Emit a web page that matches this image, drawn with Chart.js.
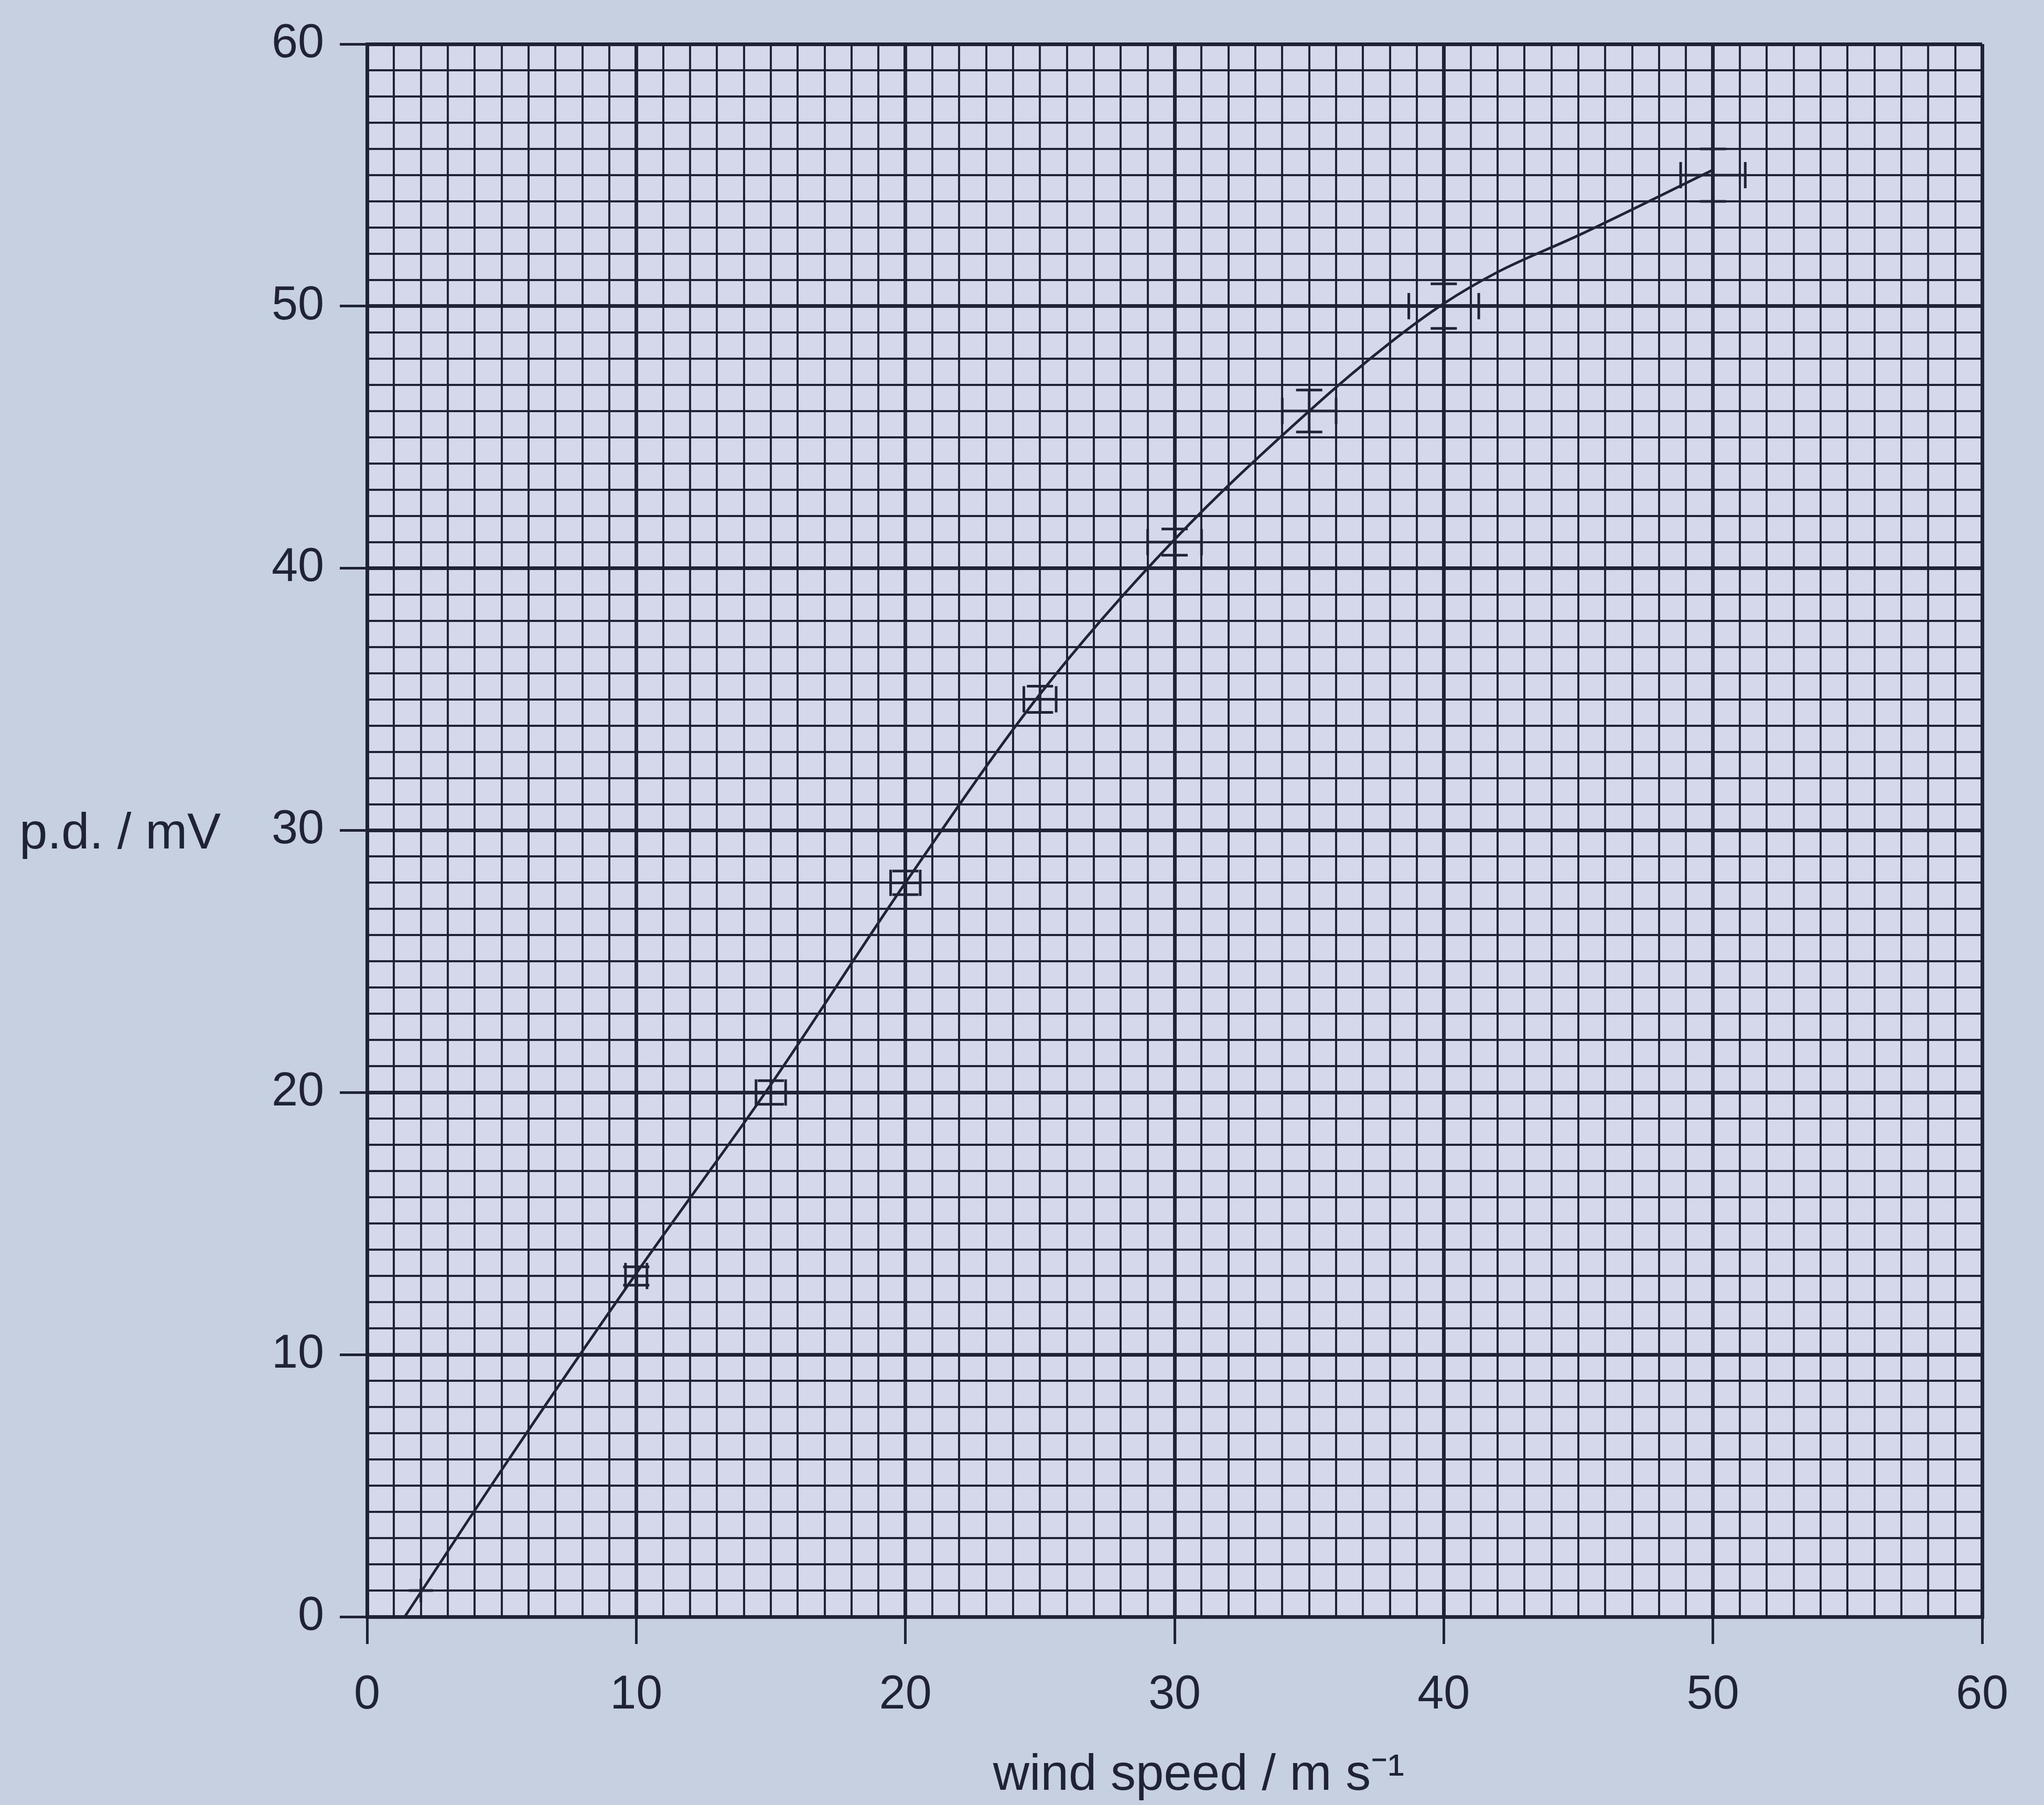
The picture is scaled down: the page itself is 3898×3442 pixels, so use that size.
<!DOCTYPE html>
<html>
<head>
<meta charset="utf-8">
<script src="https://cdn.jsdelivr.net/npm/chart.js@4.4.0/dist/chart.umd.min.js"></script>
<style>
  html, body { margin: 0; padding: 0; background: #c7d0e1; }
  #wrap { width: 3898px; height: 3442px; }
</style>
</head>
<body>
<div id="wrap"><canvas id="myChart" width="3898" height="3442"></canvas></div>
<script>
// measured points (wind speed / m s^-1, p.d. / mV) and their uncertainties
const speed    = [2, 10, 15, 20, 25, 30, 35, 40, 50];
const pd       = [1, 13, 20, 28, 35, 41, 46, 50, 55];
const speedErr = [0.45, 0.4, 0.55, 0.55, 0.6, 1.0, 1.0, 1.3, 1.2];
const pdErr    = [0.45, 0.35, 0.45, 0.45, 0.5, 0.5, 0.8, 0.85, 1.0];

// hand drawn best-fit curve
const curveSpeed = [1.4, 5, 10, 15, 20, 25, 30, 35, 38, 40, 42, 45, 50];
const curvePd    = [0, 5.6, 13.1, 20.3, 28.0, 35.2, 41.1, 46.0, 48.6, 50.1, 51.3, 52.7, 55.2];

const xTitle = 'wind speed / m s\u207B\u00B9';
const yTitle = 'p.d. / mV';

const ink = '#1f2335';
const paper = '#d4d8ea';
const font = '"Liberation Sans", Arial, sans-serif';

const isMajor = v => v % 10 === 0;

const paperPlugin = {
  id: 'paper',
  beforeDraw(chart) {
    const { ctx, chartArea: a } = chart;
    ctx.save();
    ctx.fillStyle = '#c7d0e1';
    ctx.fillRect(0, 0, chart.width, chart.height);
    ctx.fillStyle = paper;
    ctx.fillRect(a.left, a.top, a.right - a.left, a.bottom - a.top);
    ctx.restore();
  }
};

const errorBars = {
  id: 'errorBars',
  afterDatasetsDraw(chart) {
    const { ctx, scales: { x, y } } = chart;
    ctx.save();
    ctx.strokeStyle = ink;
    ctx.lineWidth = 5;
    speed.forEach((s, i) => {
      // the first reading is drawn as a plain cross, the rest have end caps
      const cap = i === 0 ? 0 : 25;
      const px = x.getPixelForValue(s);
      const py = y.getPixelForValue(pd[i]);
      const x0 = x.getPixelForValue(s - speedErr[i]);
      const x1 = x.getPixelForValue(s + speedErr[i]);
      const y0 = y.getPixelForValue(pd[i] - pdErr[i]);
      const y1 = y.getPixelForValue(pd[i] + pdErr[i]);
      ctx.beginPath();
      ctx.moveTo(x0, py); ctx.lineTo(x1, py);
      ctx.moveTo(px, y0); ctx.lineTo(px, y1);
      if (cap) {
        ctx.moveTo(x0, py - cap); ctx.lineTo(x0, py + cap);
        ctx.moveTo(x1, py - cap); ctx.lineTo(x1, py + cap);
        ctx.moveTo(px - cap, y0); ctx.lineTo(px + cap, y0);
        ctx.moveTo(px - cap, y1); ctx.lineTo(px + cap, y1);
      }
      ctx.stroke();
    });
    ctx.restore();
  }
};

const titles = {
  id: 'titles',
  afterDraw(chart) {
    const { ctx, scales: { y } } = chart;
    ctx.save();
    ctx.fillStyle = ink;
    ctx.font = '96px ' + font;
    ctx.textAlign = 'left';
    ctx.textBaseline = 'middle';
    ctx.fillText(yTitle, 37, y.getPixelForValue(30) + 8);
    ctx.textAlign = 'center';
    ctx.textBaseline = 'alphabetic';
    ctx.fillText(xTitle, 2286, 3413);
    ctx.restore();
  }
};

const gridOpts = {
  color: ink,
  lineWidth: ctx => isMajor(ctx.tick.value) ? 7 : 4,
  tickColor: ctx => isMajor(ctx.tick.value) ? ink : 'rgba(0,0,0,0)',
  tickWidth: 5,
  tickLength: 52,
  drawOnChartArea: true
};

const ctx = document.getElementById('myChart').getContext('2d');
const myChart = new Chart(ctx, {
  type: 'scatter',
  data: {
    datasets: [{
      label: 'best fit',
      data: curveSpeed.map((s, i) => ({ x: s, y: curvePd[i] })),
      showLine: true,
      borderColor: ink,
      borderWidth: 5,
      pointRadius: 0,
      cubicInterpolationMode: 'monotone'
    }, {
      label: 'measurements',
      data: speed.map((s, i) => ({ x: s, y: pd[i] })),
      pointRadius: 0,
      borderColor: ink
    }]
  },
  options: {
    responsive: false,
    animation: false,
    layout: { padding: { left: 0, top: 50, right: 118, bottom: 0 } },
    plugins: { legend: { display: false }, tooltip: { enabled: false } },
    scales: {
      x: {
        type: 'linear', min: 0, max: 60,
        afterFit: s => { s.height = 359; },
        ticks: {
          stepSize: 1, autoSkip: false, maxRotation: 0, padding: 44,
          color: ink, font: { family: font, size: 90 },
          callback: v => isMajor(v) ? v : ''
        },
        grid: gridOpts,
        border: { display: true, color: ink, width: 7 }
      },
      y: {
        type: 'linear', min: 0, max: 60,
        afterFit: s => { s.width = 700; },
        ticks: {
          stepSize: 1, autoSkip: false, padding: 30,
          color: ink, font: { family: font, size: 90 },
          callback: v => isMajor(v) ? v : ''
        },
        grid: gridOpts,
        border: { display: true, color: ink, width: 7 }
      }
    }
  },
  plugins: [paperPlugin, errorBars, titles]
});
</script>
</body>
</html>
